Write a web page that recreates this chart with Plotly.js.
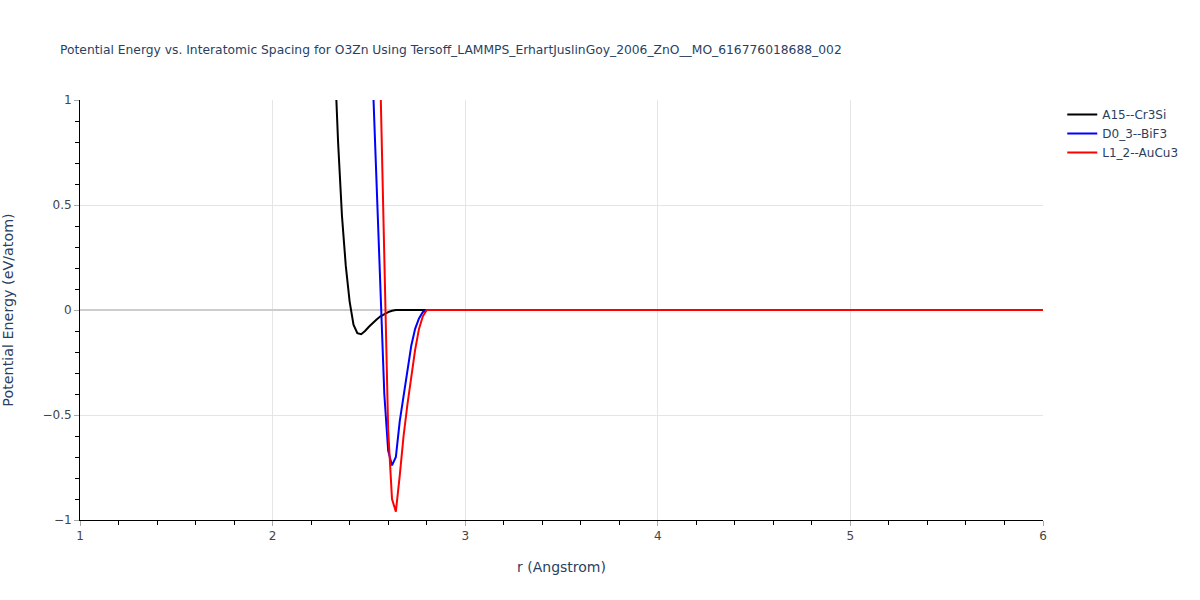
<!DOCTYPE html>
<html>
<head>
<meta charset="utf-8">
<script src="https://cdn.plot.ly/plotly-3.0.1.min.js"></script>
<style>html,body{margin:0;padding:0;background:#fff;}#chart{width:1200px;height:600px;}</style>
</head>
<body>
<div id="chart"></div>
<script>
const titleText = "Potential Energy vs. Interatomic Spacing for O3Zn Using Tersoff_LAMMPS_ErhartJuslinGoy_2006_ZnO__MO_616776018688_002";
const seriesNames = ["A15--Cr3Si", "D0_3--BiF3", "L1_2--AuCu3"];
const seriesColors = ["black", "blue", "red"];

const rA15 = [2.30, 2.32, 2.34, 2.36, 2.38, 2.40, 2.42, 2.44, 2.46, 2.48, 2.50, 2.52, 2.54, 2.56, 2.58, 2.60, 2.62, 2.64, 2.66, 2.80, 3.0, 4.0, 5.0, 6.0];
const eA15 = [1.9, 1.25, 0.8, 0.45, 0.21, 0.04, -0.07, -0.11, -0.115, -0.10, -0.08, -0.06, -0.045, -0.03, -0.018, -0.01, -0.004, 0, 0, 0, 0, 0, 0, 0];

const rD03 = [2.50, 2.52, 2.54, 2.56, 2.58, 2.60, 2.62, 2.64, 2.66, 2.68, 2.70, 2.72, 2.74, 2.76, 2.78, 2.80, 3.0, 4.0, 5.0, 6.0];
const eD03 = [1.6, 1.08, 0.55, 0.03, -0.40, -0.67, -0.74, -0.70, -0.53, -0.41, -0.28, -0.17, -0.09, -0.04, -0.01, 0, 0, 0, 0, 0];

const rL12 = [2.54, 2.56, 2.58, 2.60, 2.62, 2.64, 2.66, 2.68, 2.70, 2.72, 2.74, 2.76, 2.78, 2.80, 3.0, 4.0, 5.0, 6.0];
const eL12 = [1.9, 1.11, 0.35, -0.57, -0.90, -0.96, -0.79, -0.60, -0.45, -0.32, -0.19, -0.09, -0.03, 0, 0, 0, 0, 0];

const xs = [rA15, rD03, rL12];
const ys = [eA15, eD03, eL12];

const traces = seriesNames.map((n, i) => ({
  x: xs[i], y: ys[i], name: n, type: "scatter", mode: "lines",
  line: {color: seriesColors[i], width: 2}
}));

const axisCommon = {
  showline: true, linecolor: "black", linewidth: 1,
  ticks: "outside", ticklen: 5, tickcolor: "#aaa",
  gridcolor: "#e5e5e5", zeroline: true, zerolinecolor: "#ccc", zerolinewidth: 2,
  tickfont: {size: 12, color: "#444"}
};

const layout = {
  width: 1200, height: 600,
  margin: {l: 80, r: 157, t: 100, b: 80},
  paper_bgcolor: "white", plot_bgcolor: "white",
  font: {family: "DejaVu Sans, Verdana, sans-serif", color: "#2a3f5f"},
  title: {text: titleText, font: {size: 12.3, color: "#2a3f5f"}, x: 0.05, xanchor: "left", y: 0.925},
  showlegend: true,
  legend: {x: 1.02, y: 1, xanchor: "left", yanchor: "top", font: {size: 12, color: "#2a3f5f"}},
  xaxis: Object.assign({}, axisCommon, {
    range: [1, 6], dtick: 1,
    title: {text: "r (Angstrom)", font: {size: 14, color: "#2a3f5f"}},
    minor: {dtick: 0.2, ticks: "outside", ticklen: 4, tickcolor: "black", showgrid: false}
  }),
  yaxis: Object.assign({}, axisCommon, {
    range: [-1, 1], dtick: 0.5,
    title: {text: "Potential Energy (eV/atom)", font: {size: 14.3, color: "#2a3f5f"}, standoff: 26},
    minor: {dtick: 0.1, ticks: "outside", ticklen: 4, tickcolor: "black", showgrid: false}
  })
};

Plotly.newPlot("chart", traces, layout, {displayModeBar: false});
</script>
</body>
</html>
